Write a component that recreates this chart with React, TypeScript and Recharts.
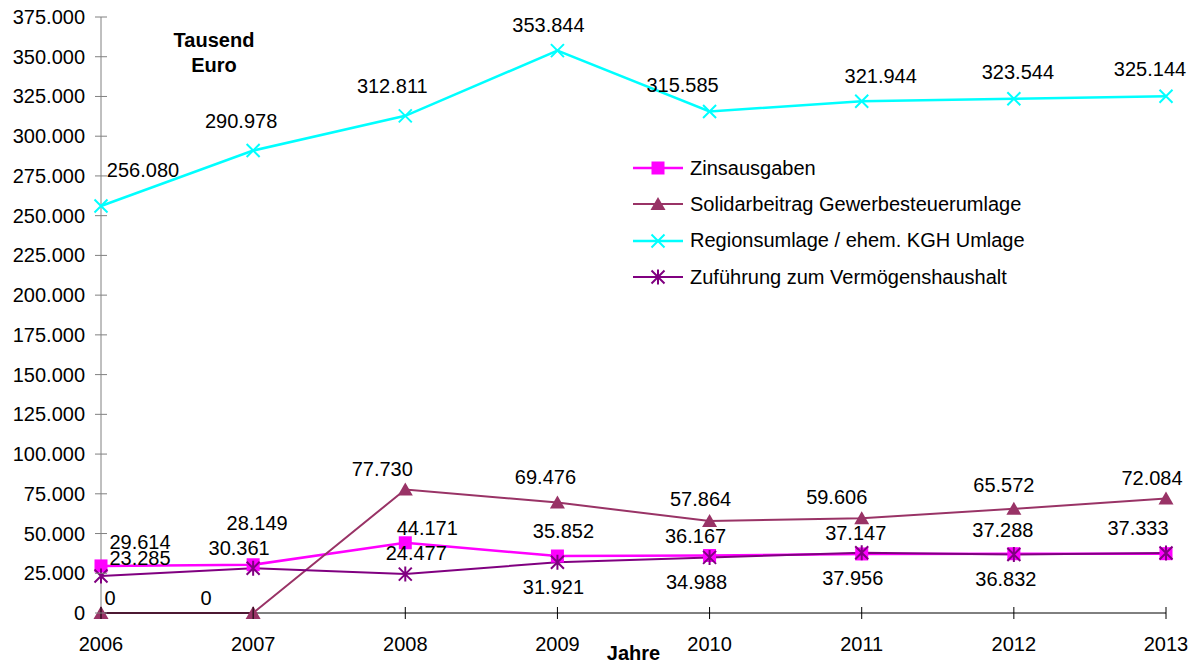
import { LineChart, Line, XAxis, YAxis, Legend, LabelList, Label } from "recharts";

const YEARS = ["2006", "2007", "2008", "2009", "2010", "2011", "2012", "2013"];
const ZINSAUSGABEN = [29614, 30361, 44171, 35852, 36167, 37147, 37288, 37333];
const SOLIDARBEITRAG = [0, 0, 77730, 69476, 57864, 59606, 65572, 72084];
const REGIONSUMLAGE = [256080, 290978, 312811, 353844, 315585, 321944, 323544, 325144];
const ZUFUEHRUNG = [23285, 28149, 24477, 31921, 34988, 37956, 36832, 37800];
const Y_TICKS = [0, 25000, 50000, 75000, 100000, 125000, 150000, 175000, 200000, 225000, 250000, 275000, 300000, 325000, 350000, 375000];

const FONT = "Arial, 'Liberation Sans', sans-serif";

const data = YEARS.map((year, i) => ({
  year,
  zins: ZINSAUSGABEN[i],
  solid: SOLIDARBEITRAG[i],
  region: REGIONSUMLAGE[i],
  zuf: ZUFUEHRUNG[i],
}));

// label nudges (dx, dy from the point), like the hand-placed labels in the original
const SERIES = [
  {
    key: "zins",
    name: "Zinsausgaben",
    color: "#FF00FF",
    marker: "square",
    width: 2.5,
    labels: [[39, -24], [-14, -17], [22, -15], [6, -25], [-14, -20], [-6, -21], [-11, -24], [-28, -26]],
  },
  {
    key: "solid",
    name: "Solidarbeitrag Gewerbesteuerumlage",
    color: "#993366",
    marker: "triangle",
    width: 2,
    labels: [[9, -15], [-47, -15], [-23, -20], [-12, -26], [-9, -22], [-25, -21], [-10, -24], [-14, -20]],
  },
  {
    key: "region",
    name: "Regionsumlage / ehem. KGH Umlage",
    color: "#00FFFF",
    marker: "cross",
    width: 2.5,
    labels: [[42, -36], [-12, -30], [-13, -30], [-9, -26], [-27, -26], [19, -25], [4, -27], [-16, -27]],
  },
  {
    key: "zuf",
    name: "Zuführung zum Vermögenshaushalt",
    color: "#800080",
    marker: "star",
    width: 2,
    labels: [[39, -18], [4, -45], [11, -21], [-4, 25], [-13, 25], [-9, 25], [-8, 25], null],
  },
];

const fmt = (v: number) => String(v).replace(/\B(?=(\d{3})+(?!\d))/g, ".");

function Marker({ type, cx, cy, color }: { type: string; cx: number; cy: number; color: string }) {
  const s = 6.5;
  if (type === "square") {
    return <rect x={cx - s} y={cy - s} width={s * 2} height={s * 2} fill={color} />;
  }
  if (type === "triangle") {
    return <polygon points={`${cx},${cy - 7} ${cx + 7.5},${cy + 6} ${cx - 7.5},${cy + 6}`} fill={color} />;
  }
  const xPath = `M${cx - s},${cy - s}L${cx + s},${cy + s}M${cx - s},${cy + s}L${cx + s},${cy - s}`;
  if (type === "cross") {
    return <path d={xPath} stroke={color} strokeWidth={2} fill="none" />;
  }
  return <path d={`${xPath}M${cx},${cy - 7.5}L${cx},${cy + 7.5}`} stroke={color} strokeWidth={2} fill="none" />;
}

function makeDot(type: string, color: string) {
  // eslint-disable-next-line @typescript-eslint/no-explicit-any
  return (props: any) => (
    <g key={`dot-${props.index}`}>
      <Marker type={type} cx={props.cx} cy={props.cy} color={color} />
    </g>
  );
}

function makeLabel(offsets: (number[] | null)[]) {
  // eslint-disable-next-line @typescript-eslint/no-explicit-any
  return (props: any) => {
    const { x, y, value, index } = props;
    const off = offsets[index];
    if (!off) return null;
    return (
      <text
        x={x + off[0]}
        y={y + off[1]}
        textAnchor="middle"
        dominantBaseline="central"
        fontSize={20}
        fontFamily={FONT}
        fill="#000"
      >
        {fmt(Number(value))}
      </text>
    );
  };
}

// eslint-disable-next-line @typescript-eslint/no-explicit-any
function YTick({ x, y, payload }: any) {
  return (
    <g>
      <line x1={x - 6} x2={x + 6} y1={y} y2={y} stroke="#808080" />
      <text x={x - 16} y={y} textAnchor="end" dominantBaseline="central" fontSize={20} fontFamily={FONT} fill="#000">
        {fmt(payload.value)}
      </text>
    </g>
  );
}

// eslint-disable-next-line @typescript-eslint/no-explicit-any
function XTick({ x, y, payload }: any) {
  return (
    <g>
      <line x1={x} x2={x} y1={y - 6} y2={y + 6} stroke="#000" />
      <text x={x} y={y + 31} textAnchor="middle" dominantBaseline="central" fontSize={20} fontFamily={FONT} fill="#000">
        {payload.value}
      </text>
    </g>
  );
}

function LegendBox() {
  return (
    <div style={{ fontFamily: FONT, fontSize: 20, color: "#000" }}>
      {SERIES.map((s) => (
        <div key={s.key} style={{ display: "flex", alignItems: "center", height: 36.3 }}>
          <svg width={50} height={20} style={{ marginRight: 7 }}>
            <line x1={0} x2={50} y1={10} y2={10} stroke={s.color} strokeWidth={s.width} />
            <Marker type={s.marker} cx={25} cy={10} color={s.color} />
          </svg>
          <span>{s.name}</span>
        </div>
      ))}
    </div>
  );
}

// eslint-disable-next-line @typescript-eslint/no-explicit-any
function UnitLabel({ viewBox }: any) {
  const cx = viewBox.x + viewBox.width + 113;
  return (
    <text x={cx} textAnchor="middle" fontSize={20} fontWeight="bold" fontFamily={FONT} fill="#000">
      <tspan x={cx} y={viewBox.y + 30}>Tausend</tspan>
      <tspan x={cx} y={viewBox.y + 55}>Euro</tspan>
    </text>
  );
}

export default function App() {
  return (
    <div style={{ position: "absolute", left: 0, top: 0, background: "#fff" }}>
      <LineChart width={1196} height={665} data={data} margin={{ top: 17, right: 30, bottom: 0, left: 0 }}>
        <XAxis
          dataKey="year"
          height={52}
          tickSize={0}
          tickMargin={0}
          tick={<XTick />}
          axisLine={{ stroke: "#000" }}
          tickLine={false}
          interval={0}
        >
          <Label
            value="Jahre"
            position="insideBottom"
            offset={5}
            fontSize={20}
            fontWeight="bold"
            fontFamily={FONT}
            fill="#000"
          />
        </XAxis>
        <YAxis
          width={101}
          domain={[0, 375000]}
          ticks={Y_TICKS}
          tickSize={0}
          tickMargin={0}
          tick={<YTick />}
          axisLine={{ stroke: "#808080" }}
          tickLine={false}
          interval={0}
        >
          <Label content={(p: any) => <UnitLabel viewBox={p.viewBox} />} />
        </YAxis>
        <Legend
          layout="vertical"
          align="center"
          verticalAlign="middle"
          content={() => <LegendBox />}
          wrapperStyle={{ left: 633, top: 150, width: 440 }}
        />
        {SERIES.map((s) => (
          <Line
            key={s.key}
            type="linear"
            dataKey={s.key}
            name={s.name}
            stroke={s.color}
            strokeWidth={s.width}
            dot={makeDot(s.marker, s.color)}
            activeDot={false}
            isAnimationActive={false}
          >
            <LabelList dataKey={s.key} content={makeLabel(s.labels)} />
          </Line>
        ))}
      </LineChart>
    </div>
  );
}
